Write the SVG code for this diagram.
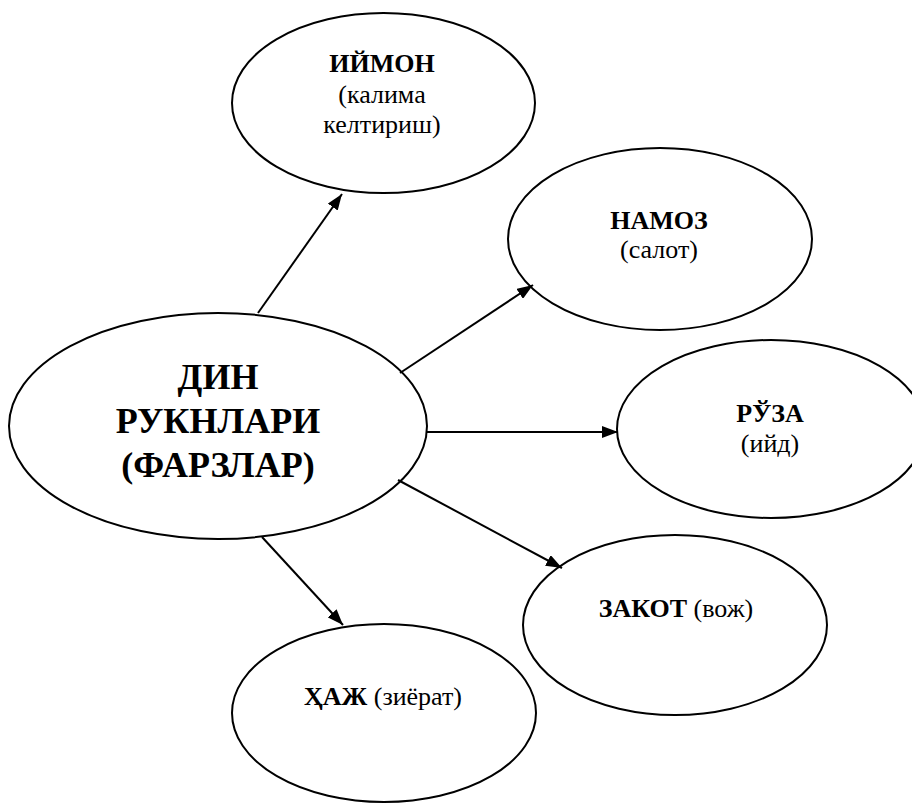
<svg xmlns="http://www.w3.org/2000/svg" width="912" height="803" viewBox="0 0 912 803">
<style>
text{font-family:'Liberation Serif',Tinos,'Times New Roman','DejaVu Serif',serif;fill:#000;text-anchor:middle}
.n{fill:#fff;stroke:#000;stroke-width:2}
.t{font-size:26px}
.b{font-weight:bold}
.c{font-size:36px;font-weight:bold}
.e{stroke:#000;stroke-width:2;fill:none;marker-end:url(#ah)}
</style>
<defs>
<marker id="ah" markerUnits="userSpaceOnUse" markerWidth="16" markerHeight="12" refX="16" refY="6" orient="auto">
<path d="M0,0 L16,6 L0,12 Z" fill="#000"/>
</marker>
</defs>
<rect width="912" height="803" fill="#fff"/>
<g id="center">
<ellipse class="n" cx="218" cy="426" rx="209" ry="113"/>
<text class="c" x="218" y="389">ДИН</text>
<text class="c" x="218" y="433">РУКНЛАРИ</text>
<text class="c" x="218" y="477">(ФАРЗЛАР)</text>
</g>
<g id="iymon">
<ellipse class="n" cx="383.5" cy="103" rx="151.5" ry="90"/>
<text class="t b" x="382" y="72">ИЙМОН</text>
<text class="t" x="382" y="103">(калима</text>
<text class="t" x="382" y="133">келтириш)</text>
</g>
<g id="namoz">
<ellipse class="n" cx="660" cy="239" rx="152" ry="91"/>
<text class="t b" x="659" y="229">НАМОЗ</text>
<text class="t" x="659" y="258">(салот)</text>
</g>
<g id="ruza">
<ellipse class="n" cx="771" cy="429" rx="154" ry="89"/>
<text class="t b" x="770" y="422">РЎЗА</text>
<text class="t" x="770" y="452">(ийд)</text>
</g>
<g id="zakot">
<ellipse class="n" cx="675" cy="625" rx="152" ry="90"/>
<text class="t" x="676" y="617"><tspan class="b">ЗАКОТ</tspan> (вож)</text>
</g>
<g id="haj">
<ellipse class="n" cx="384" cy="713" rx="152" ry="89"/>
<text class="t" x="383" y="705"><tspan class="b">ҲАЖ</tspan> (зиёрат)</text>
</g>
<g id="connectors">
<line class="e" x1="258" y1="313" x2="342" y2="194"/>
<line class="e" x1="400" y1="373" x2="533" y2="285"/>
<line class="e" x1="427" y1="432" x2="618" y2="432"/>
<line class="e" x1="398" y1="480" x2="562" y2="568"/>
<line class="e" x1="262" y1="537" x2="343" y2="625"/>
</g>
</svg>
